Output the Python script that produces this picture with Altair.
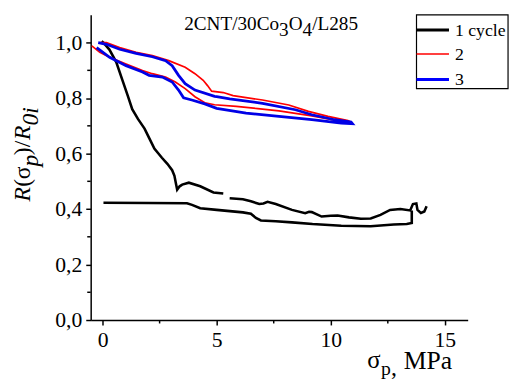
import altair as alt
import pandas as pd

# ---------------- data ----------------
# cycle 1 (black): loading branch part 1, part 2 (after the gap), unloading branch
black_a_x = [-0.04, 0.04, 0.3, 0.6, 0.87, 1.1, 1.3, 1.55, 1.84, 2.05, 2.27, 2.6, 2.84, 3.05, 3.15, 3.22, 3.27, 3.38, 3.49, 3.78, 4.28, 4.86, 5.29]
black_a_y = [1.005, 1.0, 0.975, 0.93, 0.865, 0.81, 0.76, 0.725, 0.69, 0.655, 0.618, 0.585, 0.563, 0.54, 0.52, 0.49, 0.47, 0.482, 0.488, 0.495, 0.482, 0.46, 0.456]
black_b_x = [5.57, 6.15, 6.5, 6.87, 7.05, 7.23, 7.59, 8.3, 8.88, 9.05, 9.17, 9.6, 10.0, 10.3, 10.8, 11.32, 11.75, 12.18, 12.6, 13.05, 13.48, 13.6, 13.75, 13.8, 13.95, 14.1, 14.2]
black_b_y = [0.439, 0.435, 0.428, 0.418, 0.42, 0.426, 0.418, 0.397, 0.385, 0.39, 0.389, 0.373, 0.376, 0.377, 0.37, 0.365, 0.366, 0.379, 0.397, 0.40, 0.395, 0.418, 0.42, 0.397, 0.386, 0.391, 0.41]
black_c_x = [13.55, 13.55, 13.33, 12.76, 11.75, 10.46, 9.2, 8.3, 7.59, 6.94, 6.72, 6.5, 6.15, 5.0, 4.28, 3.92, 3.7, 2.0, 0.04]
black_c_y = [0.395, 0.35, 0.346, 0.344, 0.338, 0.34, 0.346, 0.352, 0.356, 0.359, 0.368, 0.383, 0.388, 0.397, 0.403, 0.415, 0.421, 0.422, 0.423]

# cycle 2 (red): lower branch left->right, then upper branch right->left
red_x = [-0.47, -0.12, 0.31, 1.03, 1.75, 2.18, 2.76, 3.19, 3.62, 4.05, 4.48, 4.91, 5.86, 6.8, 7.73, 9.17, 10.3, 10.89,
         10.95, 10.75, 9.88, 9.02, 8.16, 7.01, 5.72, 5.29, 4.78, 4.6, 4.41, 4.05, 3.62, 2.9, 2.18, 1.47, 0.75, 0.17, -0.12]
red_y = [0.988, 0.965, 0.947, 0.923, 0.899, 0.888, 0.876, 0.858, 0.834, 0.805, 0.783, 0.776, 0.770, 0.762, 0.754, 0.736, 0.719, 0.713,
         0.71, 0.719, 0.734, 0.752, 0.775, 0.793, 0.809, 0.820, 0.825, 0.845, 0.864, 0.888, 0.911, 0.935, 0.953, 0.965, 0.982, 1.0, 1.0]

# cycle 3 (blue): lower branch left->right, then upper branch right->left
blue_x = [-0.26, 0.31, 1.03, 1.75, 2.04, 2.62, 3.05, 3.33, 3.55, 3.91, 4.48, 5.0, 6.29, 7.73, 9.17, 10.46, 10.95,
          10.89, 10.17, 9.17, 8.45, 7.01, 5.57, 5.0, 4.91, 4.05, 3.62, 3.33, 3.05, 2.76, 2.18, 1.47, 0.75, 0.17, -0.19]
blue_y = [0.982, 0.947, 0.917, 0.894, 0.882, 0.876, 0.858, 0.829, 0.801, 0.793, 0.779, 0.763, 0.746, 0.734, 0.722, 0.71, 0.708,
          0.714, 0.722, 0.740, 0.758, 0.781, 0.797, 0.805, 0.806, 0.829, 0.852, 0.882, 0.917, 0.935, 0.949, 0.961, 0.976, 0.994, 1.0]

legend_labels = ["1 cycle", "2", "3"]
legend_colors = ["#000000", "#ff0000", "#0000ff"]
legend_widths = [3, 1.6, 3]

x_major = [0, 5, 10, 15]
x_minor = [2.5, 7.5, 12.5]
y_major = [0.0, 0.2, 0.4, 0.6, 0.8, 1.0]
y_minor = [0.1, 0.3, 0.5, 0.7, 0.9]

FONT = "Liberation Serif, Times New Roman, serif"


def frame(xs, ys, seg):
    return pd.DataFrame({"x": xs, "y": ys, "seg": seg, "i": list(range(len(xs)))})


black_df = pd.concat([frame(black_a_x, black_a_y, "a"),
                      frame(black_b_x, black_b_y, "b"),
                      frame(black_c_x, black_c_y, "c")], ignore_index=True)
red_df = frame(red_x, red_y, "r")
blue_df = frame(blue_x, blue_y, "b")

xs = alt.Scale(domain=[-0.52, 16.0], nice=False, zero=False)
ys = alt.Scale(domain=[0, 1.1], nice=False, zero=False)
X = alt.X("x:Q", scale=xs, axis=alt.Axis(values=x_major, title=None, labelPadding=5,
                                          labelFont=FONT, labelFontSize=22))
Y = alt.Y("y:Q", scale=ys, axis=alt.Axis(values=y_major, title=None, labelPadding=4,
                                          labelFont=FONT, labelFontSize=22,
                                          labelExpr="replace(format(datum.value, '.1f'), '.', ',')"))

black = alt.Chart(black_df).mark_line(color="black", strokeWidth=2.6).encode(
    x=X, y=Y, detail="seg:N", order="i:Q")
red = alt.Chart(red_df).mark_line(color="#ff0000", strokeWidth=1.7).encode(
    x=X, y=Y, detail="seg:N", order="i:Q")
blue = alt.Chart(blue_df).mark_line(color="#0000e6", strokeWidth=2.8).encode(
    x=X, y=Y, detail="seg:N", order="i:Q")

minor_x = alt.Chart(pd.DataFrame({"x": x_minor})).mark_rule(color="black", strokeWidth=1.5).encode(
    x=X, y=alt.value(310), y2=alt.value(313.5))
minor_y = alt.Chart(pd.DataFrame({"y": y_minor})).mark_rule(color="black", strokeWidth=1.5).encode(
    y=Y, x=alt.value(-3.5), x2=alt.value(0))

one = alt.Data(values=[{}])


def txt(s, x, y, size, style="normal", angle=0, baseline="alphabetic"):
    kw = dict(font=FONT, fontSize=size, fontStyle=style, align="left", baseline=baseline, color="black")
    if angle:
        kw["angle"] = angle
    return alt.Chart(one).mark_text(**kw).encode(x=alt.value(x), y=alt.value(y), text=alt.value(s))


# legend box
leg_box = alt.Chart(one).mark_rect(fill="white", stroke="black", strokeWidth=1.2).encode(
    x=alt.value(331), x2=alt.value(424), y=alt.value(0), y2=alt.value(75))
leg_layers = [leg_box]
leg_rows = [15.3, 39.7, 65.7]
for lab, col, w, yy in zip(legend_labels, legend_colors, legend_widths, leg_rows):
    leg_layers.append(alt.Chart(one).mark_rule(color=col, strokeWidth=w).encode(
        x=alt.value(331), x2=alt.value(364), y=alt.value(yy)))
    leg_layers.append(txt(lab, 370, yy + 6, 18))

# annotation 2CNT/30Co3O4/L285
fs_t = 19.5
ann = [
    txt("2CNT/30Co", 95, 15, fs_t),
    txt("3", 95 + 4.945 * fs_t, 21, fs_t),
    txt("O", 95 + 5.445 * fs_t, 15, fs_t),
    txt("4", 95 + 6.167 * fs_t, 21, fs_t),
    txt("/L285", 95 + 6.667 * fs_t, 15, fs_t),
]

# y title R(σp)/R0i
yt = [
    txt("R", -62, 189.7, 24, "italic", 270),
    txt("(", -62, 174.5, 24, "normal", 270),
    txt("σ", -62, 167, 24, "normal", 270),
    txt("p", -54, 154, 24, "italic", 270),
    txt(")", -62, 142.5, 24, "normal", 270),
    txt("/", -62, 134.5, 24, "normal", 270),
    txt("R", -62, 127, 24, "italic", 270),
    txt("0i", -54, 112.5, 24, "italic", 270),
]

# x title σp, MPa
xt = [
    txt("σ", 281, 358.7, 25),
    txt("p", 295, 366, 20),
    txt(",", 305, 366, 24),
    txt("MPa", 318, 359.5, 26),
]

chart = alt.layer(black, red, blue, minor_x, minor_y, *leg_layers, *ann, *yt, *xt).properties(
    width=383, height=310,
    autosize=alt.AutoSizeParams(type="none"),
    padding={"left": 84, "top": 4, "right": 44, "bottom": 61},
).configure(font=FONT).configure_view(stroke=None).configure_axis(
    grid=False, domainColor="black", domainWidth=1.5, tickColor="black", tickWidth=1.5, tickSize=5,
    labelFont=FONT, labelFontSize=22, labelColor="black",
)

chart.save("out.html", embed_options={"renderer": "svg", "actions": False})
